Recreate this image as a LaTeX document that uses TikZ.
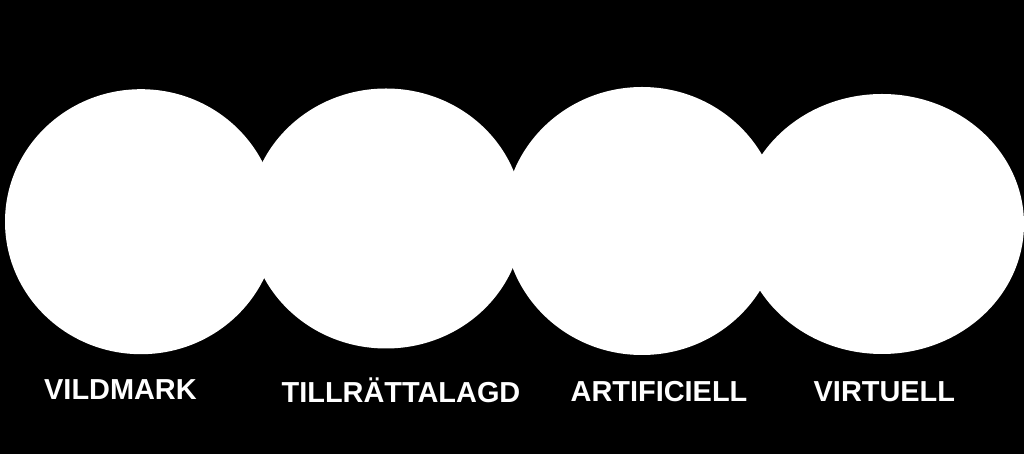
\documentclass[tikz,border=0pt]{standalone}
\usepackage{fontspec}
\setmainfont{Liberation Sans}
\usetikzlibrary{shapes.geometric}
\begin{document}
\begin{tikzpicture}[x=1pt,y=1pt,
  blob/.style={ellipse, fill=white, draw=none, inner sep=0pt, outer sep=0pt},
  lbl/.style={anchor=base west, text=white, inner sep=0pt, font=\fontsize{28.9}{30}\selectfont\bfseries}]
\fill[black] (0,0) rectangle (1024,454);
\useasboundingbox (0,0) rectangle (1024,454);
\node[blob, minimum width=272, minimum height=265] (e1) at (141,232.3) {};
\node[blob, minimum width=274, minimum height=260] (e2) at (386,235.5) {};
\node[blob, minimum width=276, minimum height=268] (e3) at (642,233) {};
\node[blob, minimum width=284, minimum height=260] (e4) at (882,230) {};
\node[lbl] (l1) at (44,54) {VILDMARK};
\node[lbl] (l2) at (281.5,51.7) {TILLRÄTTALAGD};
\node[lbl] (l3) at (570.5,52.3) {ARTIFICIELL};
\node[lbl] (l4) at (813.5,52.3) {VIRTUELL};
\end{tikzpicture}
\end{document}
